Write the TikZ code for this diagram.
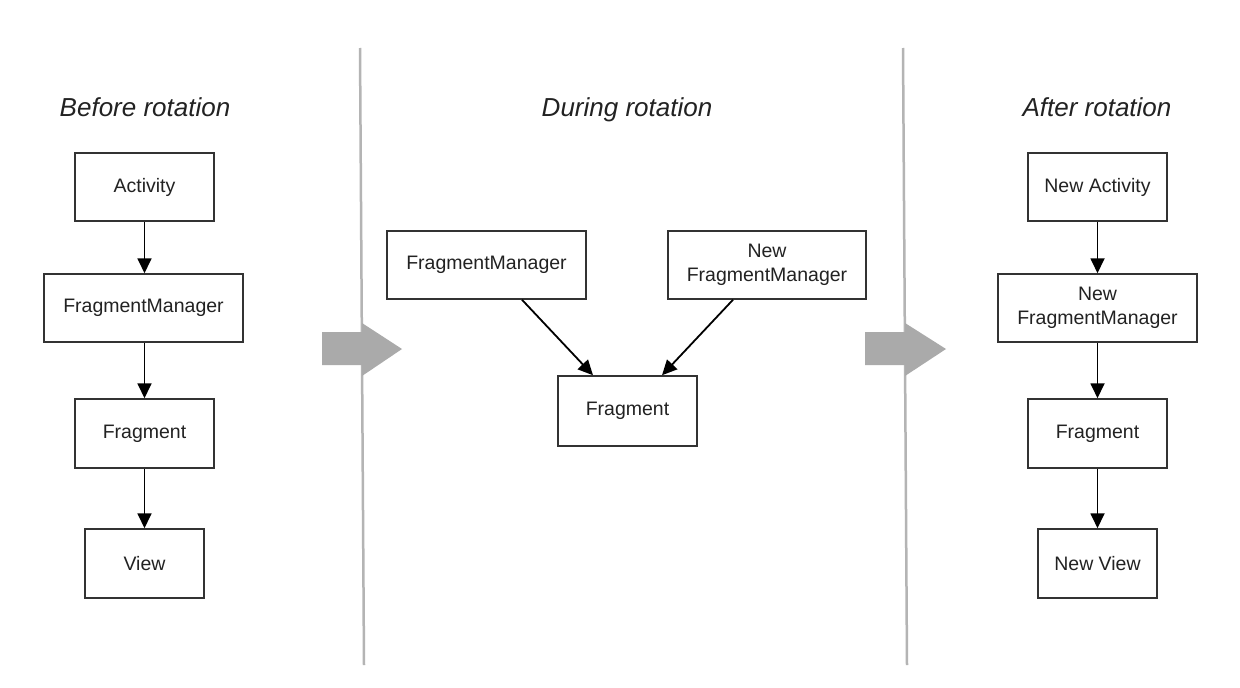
\documentclass[tikz,border=0pt]{standalone}
\usepackage{fontspec}
\setmainfont{Liberation Sans}
\usetikzlibrary{arrows.meta}
\definecolor{boxline}{HTML}{333333}
\definecolor{txt}{HTML}{222222}
\definecolor{sepgray}{HTML}{B4B4B4}
\definecolor{bigarrow}{HTML}{AAAAAA}
\begin{document}
\begin{tikzpicture}[x=1pt,y=-1pt,
  box/.style={draw=boxline,line width=1.5pt,rectangle,inner sep=0pt,align=center,
    text=txt,font=\fontsize{19.5}{23.5}\selectfont},
  title/.style={text=txt,anchor=base,font=\fontsize{26}{30}\selectfont\itshape},
  link/.style={line width=1.8pt,draw=black,-{Triangle[length=15pt,width=14pt]}},
  sep/.style={draw=sepgray,line width=2.5pt},
  bigarr/.style={fill=bigarrow,draw=none}]
\useasboundingbox (0,0) rectangle (1240,688);
\fill[white] (0,0) rectangle (1240,688);
% separators
\draw[sep] (360,48) -- (364,665);
\draw[sep] (903,48) -- (907,665);
% big gray arrows
\fill[bigarr] (322,332) -- (362,332) -- (362,323) -- (402,349) -- (362,376) -- (362,365) -- (322,365) -- cycle;
\fill[bigarr] (865,332) -- (905,332) -- (905,323) -- (946,349) -- (905,376) -- (905,365) -- (865,365) -- cycle;
% titles
\node[title] (t1) at (145,116.5) {Before rotation};
\node[title] (t2) at (627,116.5) {During rotation};
\node[title] (t3) at (1097,116.5) {After rotation};
% left column
\node[box,minimum width=139pt,minimum height=68pt] (act) at (144.5,187) {Activity};
\node[box,minimum width=199pt,minimum height=68pt] (fm) at (143.5,308) {FragmentManager};
\node[box,minimum width=139pt,minimum height=69pt] (frag) at (144.5,433.5) {Fragment};
\node[box,minimum width=119pt,minimum height=69pt] (view) at (144.5,563.5) {View};
\draw[link] (act.south) -- (act.south |- fm.north);
\draw[link] (fm.south -| act.south) -- (frag.north);
\draw[link] (frag.south) -- (view.north);
% middle
\node[box,minimum width=199pt,minimum height=68pt] (mfm) at (486.5,265) {FragmentManager};
\node[box,minimum width=198pt,minimum height=68pt] (mnfm) at (767,265) {New\\FragmentManager};
\node[box,minimum width=139pt,minimum height=70pt] (mfrag) at (627.5,411) {Fragment};
\draw[link] ([xshift=35.5pt]mfm.south) -- ([xshift=-34.5pt]mfrag.north);
\draw[link] ([xshift=-34pt]mnfm.south) -- ([xshift=34.5pt]mfrag.north);
% right column
\node[box,minimum width=139pt,minimum height=68pt] (nact) at (1097.5,187) {New Activity};
\node[box,minimum width=199pt,minimum height=68pt] (nfm) at (1097.5,308) {New\\FragmentManager};
\node[box,minimum width=139pt,minimum height=69pt] (nfrag) at (1097.5,433.5) {Fragment};
\node[box,minimum width=119pt,minimum height=69pt] (nview) at (1097.5,563.5) {New View};
\draw[link] (nact.south) -- (nfm.north);
\draw[link] (nfm.south) -- (nfrag.north);
\draw[link] (nfrag.south) -- (nview.north);
\end{tikzpicture}
\end{document}
